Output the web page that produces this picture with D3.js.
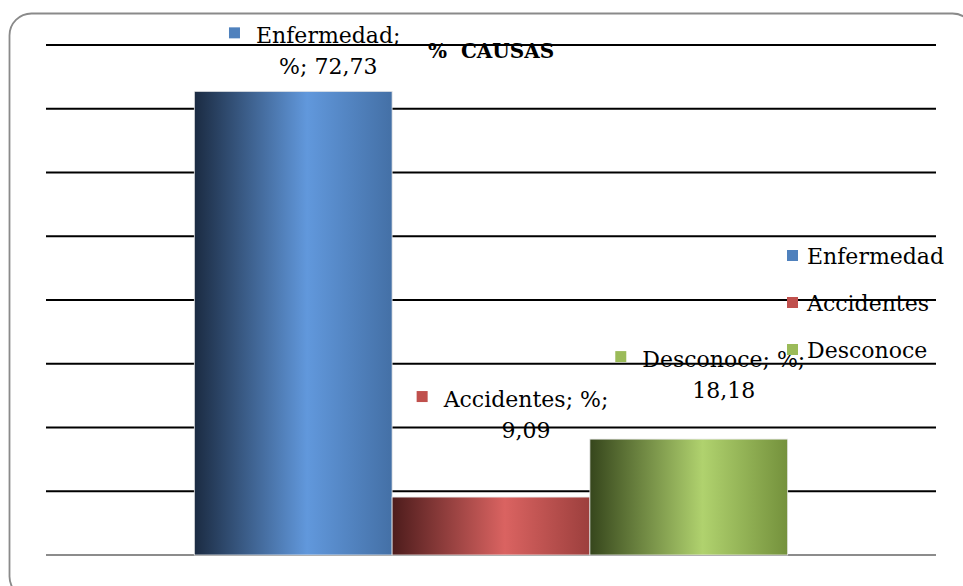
<!DOCTYPE html>
<html>
<head>
<meta charset="utf-8">
<script src="https://cdn.jsdelivr.net/npm/d3@7"></script>
<style>
  html, body { margin: 0; padding: 0; background: #fff; }
  svg { display: block; font-family: "DejaVu Serif", serif; }
</style>
</head>
<body>
<svg class="chart" width="963" height="586"></svg>
<script>
// data
const categories = ["%"];
const series = ["Enfermedad", "Accidentes", "Desconoce"];
const values = [72.73, 9.09, 18.18];
const yTicks = [0, 10, 20, 30, 40, 50, 60, 70, 80];
const title = "%  CAUSAS";
// data labels as Excel wrapped them
const labelLine1 = ["Enfermedad;", "Accidentes; %;", "Desconoce; %;"];
const labelLine2 = ["%; 72,73", "9,09", "18,18"];

// colors: [dark left, light, right edge]
const gradStops = [
  ["#1b2b42", "#6198dc", "#4470a6"],
  ["#4d1c1c", "#da6361", "#9c3f3d"],
  ["#36461c", "#b0d26e", "#74913c"]
];
const legendColor = ["#4f81bd", "#c0504d", "#9bbb59"];

// how far above the bar top each data label sits (moved by hand in original)
const labelLift = [17, 59, 41];

const svg = d3.select("svg.chart");
const plotL = 46, plotR = 936, plotT = 45, plotB = 555;

// frame
svg.append("rect")
  .attr("x", 9.5).attr("y", 13.5)
  .attr("width", 965).attr("height", 585)
  .attr("rx", 22)
  .attr("fill", "none")
  .attr("stroke", "#8a8a8a")
  .attr("stroke-width", 1.8);

// scales
const y = d3.scaleLinear().domain([0, 80]).range([plotB, plotT]);
const x0 = d3.scaleBand().domain(categories).range([plotL, plotR]).paddingOuter(0.25).paddingInner(0);
const x1 = d3.scaleBand().domain(series).range([0, x0.bandwidth()]);

// gradients
const defs = svg.append("defs");
series.forEach((s, i) => {
  const g = defs.append("linearGradient").attr("id", "grad" + i)
    .attr("x1", "0%").attr("x2", "100%").attr("y1", "0%").attr("y2", "0%");
  g.append("stop").attr("offset", "0%").attr("stop-color", gradStops[i][0]);
  g.append("stop").attr("offset", "57%").attr("stop-color", gradStops[i][1]);
  g.append("stop").attr("offset", "100%").attr("stop-color", gradStops[i][2]);
});

// gridlines
svg.append("g").selectAll("line")
  .data(yTicks)
  .enter()
  .append("line")
  .attr("x1", plotL).attr("x2", plotR)
  .attr("y1", d => y(d)).attr("y2", d => y(d))
  .attr("stroke", d => d === 0 ? "#8c8c8c" : "#000")
  .attr("stroke-width", 2);

// bars
const rows = series.map((s, i) => ({ cat: categories[0], s: s, v: values[i], i: i }));

svg.append("g").selectAll("rect")
  .data(rows)
  .enter()
  .append("rect")
  .attr("x", d => x0(d.cat) + x1(d.s))
  .attr("y", d => y(d.v))
  .attr("width", x1.bandwidth())
  .attr("height", d => y(0) - y(d.v))
  .attr("fill", d => "url(#grad" + d.i + ")")
  .attr("stroke", "#e8e8e8")
  .attr("stroke-width", 0.8);

// title
svg.append("text")
  .attr("x", 428).attr("y", 58)
  .attr("font-size", 20).attr("font-weight", "bold")
  .style("white-space", "pre")
  .text(title);

// data labels
const labels = svg.append("g").selectAll("g")
  .data(rows)
  .enter()
  .append("g")
  .attr("transform", d => "translate(" + (x0(d.cat) + x1(d.s) + x1.bandwidth() / 2 + 35) + "," + (y(d.v) - labelLift[d.i]) + ")");

labels.append("text")
  .attr("class", "l1")
  .attr("text-anchor", "middle")
  .attr("y", -31)
  .attr("font-size", 22)
  .text(d => labelLine1[d.i]);

labels.append("text")
  .attr("text-anchor", "middle")
  .attr("y", 0)
  .attr("font-size", 22)
  .text(d => labelLine2[d.i]);

labels.each(function(d) {
  const g = d3.select(this);
  const w = g.select("text.l1").node().getComputedTextLength();
  g.append("rect")
    .attr("x", -w / 2 - 27).attr("y", -47)
    .attr("width", 11).attr("height", 11)
    .attr("fill", legendColor[d.i]);
});

// legend
const legend = svg.append("g").selectAll("g")
  .data(series)
  .enter()
  .append("g")
  .attr("transform", (d, i) => "translate(787," + (255.5 + i * 47) + ")");

legend.append("rect")
  .attr("x", 0).attr("y", -5.5)
  .attr("width", 11).attr("height", 11)
  .attr("fill", (d, i) => legendColor[i]);

legend.append("text")
  .attr("x", 20).attr("y", 8)
  .attr("font-size", 22)
  .text(d => d);
</script>
</body>
</html>
